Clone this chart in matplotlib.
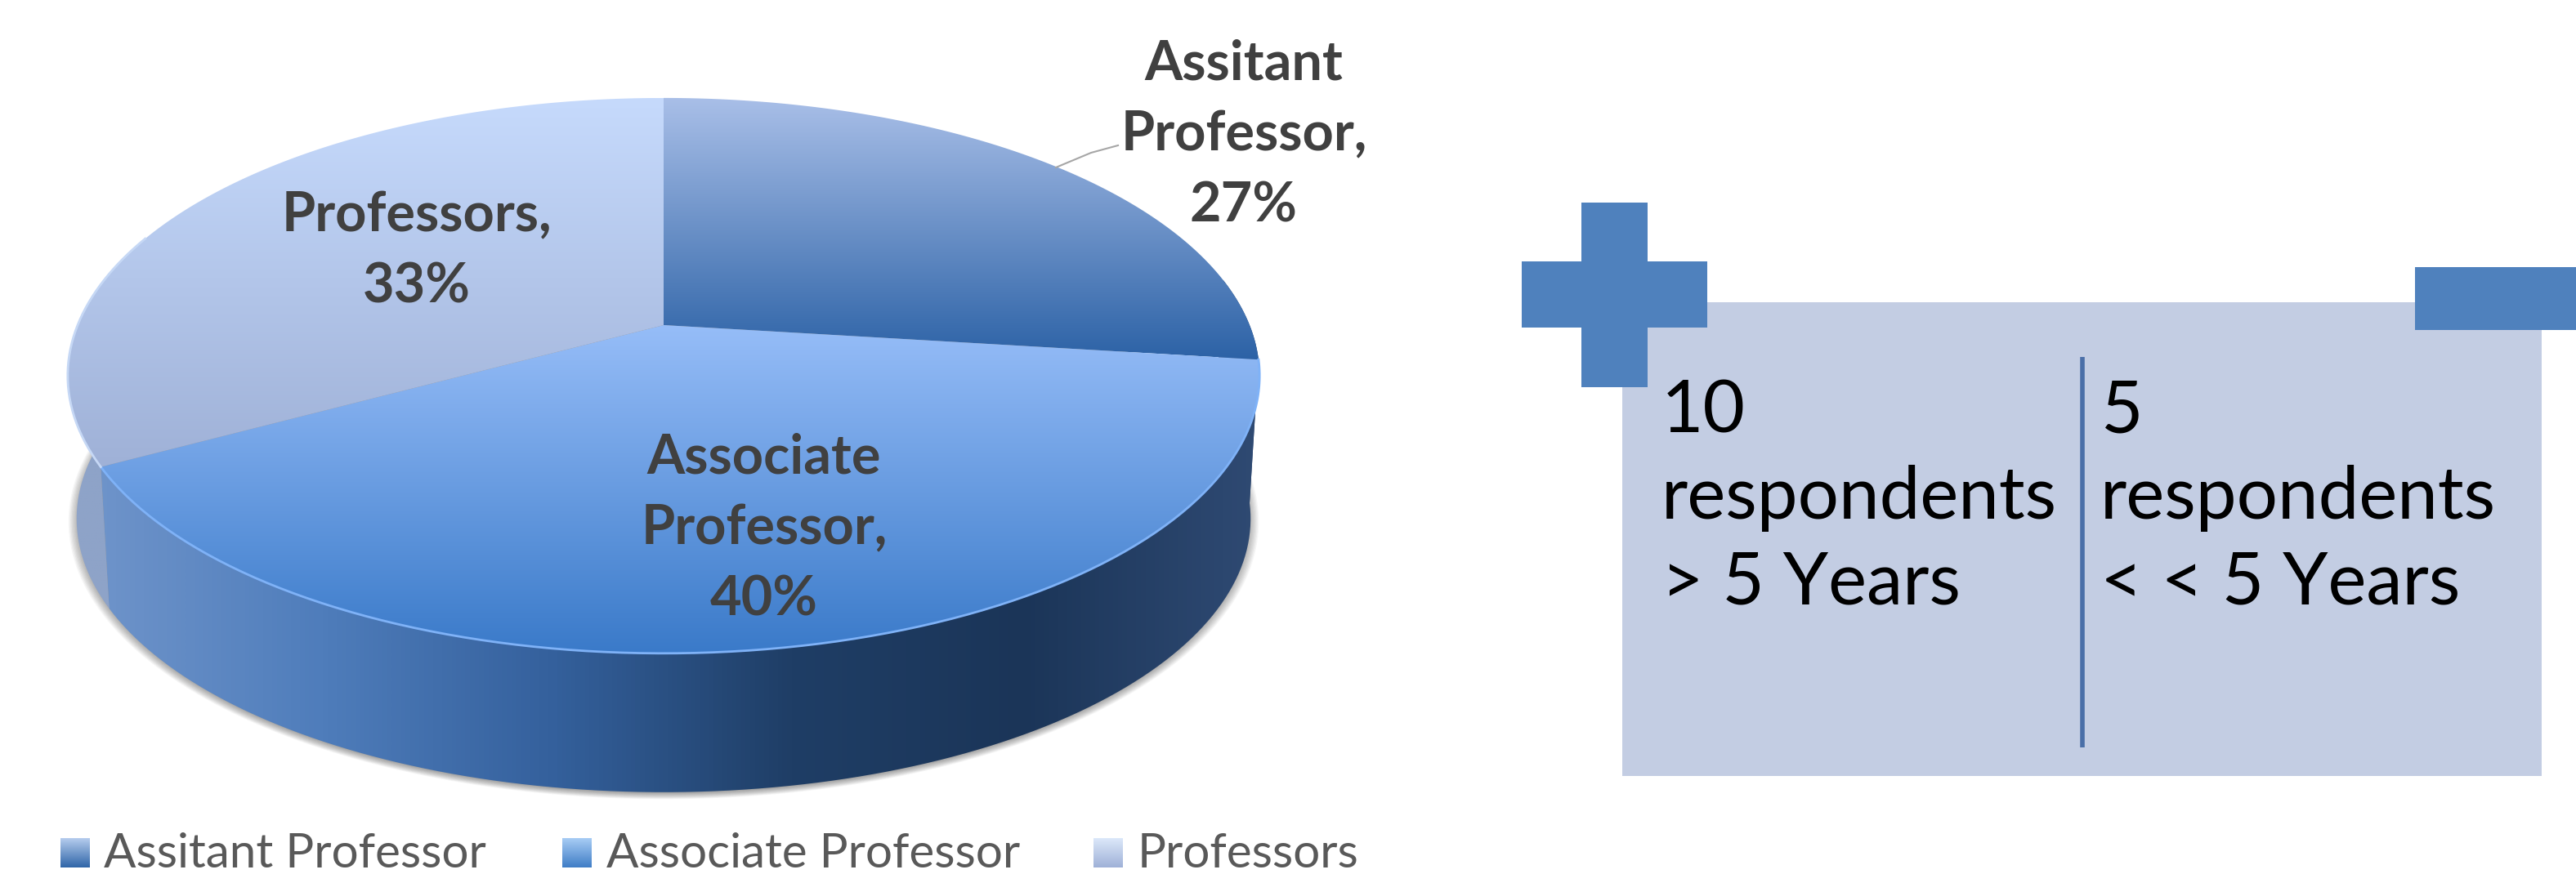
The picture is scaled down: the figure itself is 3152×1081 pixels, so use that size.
import numpy as np
import matplotlib
matplotlib.use('Agg')
import matplotlib.pyplot as plt
from matplotlib.patches import Polygon, Rectangle
from matplotlib.colors import LinearSegmentedColormap

plt.rcParams['font.family'] = ['Lato', 'DejaVu Sans']

# ------------------------------------
#   Data
# ------------------------------------
categories = ['Assitant Professor', 'Associate Professor', 'Professors']
shares = [27, 40, 33]
slice_labels = ['Assitant\nProfessor,\n27%', 'Associate\nProfessor,\n40%', 'Professors,\n33%']
box_left = ['10', 'respondents', '> 5 Years']
box_right = ['5', 'respondents', '< < 5 Years']

top_colors = [('#A9BFE8', '#2C62A6'), ('#96BDF8', '#3A7AC9'), ('#C6DAFC', '#9FB1D7')]
side_stops = ['#7095CB', '#4F7DBB', '#34609C', '#1F3E66', '#1B3558', '#2F4A73']
swatch_colors = [('#B6CDEE', '#2F65A8'), ('#A8CDF5', '#3F7DC6'), ('#DCE8FA', '#9FB1D7')]

W, H = 3152, 1081
fig = plt.figure(figsize=(W / 100, H / 100), dpi=100)
ax = fig.add_axes([0, 0, 1, 1])
ax.set_xlim(0, W)
ax.set_ylim(H, 0)
ax.axis('off')


def project(theta, dx=0.0, dy=0.0, scale=1.0):
    """ tilted circle to screen, theta clockwise from 12 o'clock"""
    k = 0.182
    w = 1 + k * np.cos(theta)
    x = 812 + dx + scale * 717 * np.sin(theta) / w
    y = 398 + dy - scale * 328.7 * np.cos(theta) / w
    return np.column_stack([x, y])


def gradient_fill(verts, c_start, c_end=None, extent=None, horizontal=False, stops=None, zorder=2):
    """ fill a polygon with a linear gradient through a clipped image"""
    cmap = LinearSegmentedColormap.from_list('g', stops if stops else [c_start, c_end])
    xs, ys = verts[:, 0], verts[:, 1]
    if extent is None:
        extent = (xs.min(), xs.max(), ys.max(), ys.min())
    grad = np.linspace(0, 1, 256)
    grad = grad.reshape(1, -1) if horizontal else grad.reshape(-1, 1)
    im = ax.imshow(grad, cmap=cmap, extent=extent, aspect='auto', zorder=zorder, interpolation='bilinear')
    patch = Polygon(verts, closed=True, transform=ax.transData, facecolor='none', edgecolor='none')
    ax.add_patch(patch)
    im.set_clip_path(patch)
    ax.set_xlim(0, W)
    ax.set_ylim(H, 0)


# side offset of the bottom rim
DX, DY, SC = 0, 176, 0.985

# shadow under the pie
t_all = np.linspace(0, 2 * np.pi, 300)
for grow in np.linspace(1.014, 0.99, 14):
    ax.add_patch(Polygon(project(t_all, dx=0, dy=DY + 3, scale=SC * grow), closed=True,
                         facecolor='#000000', edgecolor='none', alpha=0.035, zorder=1))

# slice angles
edges = np.cumsum([0] + shares) / sum(shares) * 2 * np.pi

# side walls, visible part only
vis_lo, vis_hi = np.radians(80), np.radians(282)
for i in range(len(shares)):
    a, b = max(edges[i], vis_lo), min(edges[i + 1], vis_hi)
    if a >= b:
        continue
    t = np.linspace(a, b, 120)
    verts = np.vstack([project(t), project(t[::-1], DX, DY, SC)])
    if i == 2:
        gradient_fill(verts, '#8EA3C8', '#8EA3C8')
    else:
        gradient_fill(verts, None, stops=side_stops, extent=(100, 1545, 1000, 0), horizontal=True)

# top faces
for i in range(len(shares)):
    t = np.linspace(edges[i], edges[i + 1], 200)
    verts = np.vstack([[[812, 398]], project(t)])
    gradient_fill(verts, top_colors[i][0], top_colors[i][1], zorder=3)

# rim highlight
t = np.linspace(edges[1], edges[2], 200)
ax.plot(*project(t).T, color='#7FB2F7', lw=2, zorder=4)
t = np.linspace(edges[2], np.radians(290), 40)
ax.plot(*project(t).T, color='#C6D8F5', lw=2, zorder=4)

# leader line
ax.plot([1292, 1335, 1368], [205, 187, 178], color='#A6A6A6', lw=1.5, zorder=4)

# slice labels
label_pos = [(1522, 165), (935, 647), (510, 308)]
for s, (x, y) in zip(slice_labels, label_pos):
    ax.text(x, y, s, ha='center', va='center', fontsize=48, fontweight='bold',
            color='#404040', linespacing=1.5, zorder=5)

# legend
swatch_x = [74, 688, 1338]
legend_x = [127, 742, 1392]
for i in range(len(categories)):
    sx = swatch_x[i]
    verts = np.array([[sx, 1026], [sx + 36, 1026], [sx + 36, 1062], [sx, 1062]], dtype=float)
    gradient_fill(verts, swatch_colors[i][0], swatch_colors[i][1])
    ax.text(legend_x[i], 1062, categories[i], ha='left', va='baseline', fontsize=42, color='#595959')

# right hand panel
ax.add_patch(Rectangle((1985, 370), 1125, 580, facecolor='#C3CDE3', edgecolor='none', zorder=1))
ax.add_patch(Rectangle((1935, 248), 81, 226, facecolor='#4F81BD', edgecolor='none', zorder=2))
ax.add_patch(Rectangle((1862, 320), 227, 81, facecolor='#4F81BD', edgecolor='none', zorder=2))
ax.add_patch(Rectangle((2955, 327), 197, 77, facecolor='#4F81BD', edgecolor='none', zorder=2))
ax.plot([2548, 2548], [437, 915], color='#4A6FA8', lw=4, solid_capstyle='butt', zorder=3)

line_y = [530, 635, 740]
for s, y in zip(box_left, line_y):
    ax.text(2033, y, s, ha='left', va='baseline', fontsize=64, color='black', zorder=4)
for s, y in zip(box_right, line_y):
    ax.text(2570, y, s, ha='left', va='baseline', fontsize=64, color='black', zorder=4)

fig.savefig('out.png', dpi=100, facecolor='white')
